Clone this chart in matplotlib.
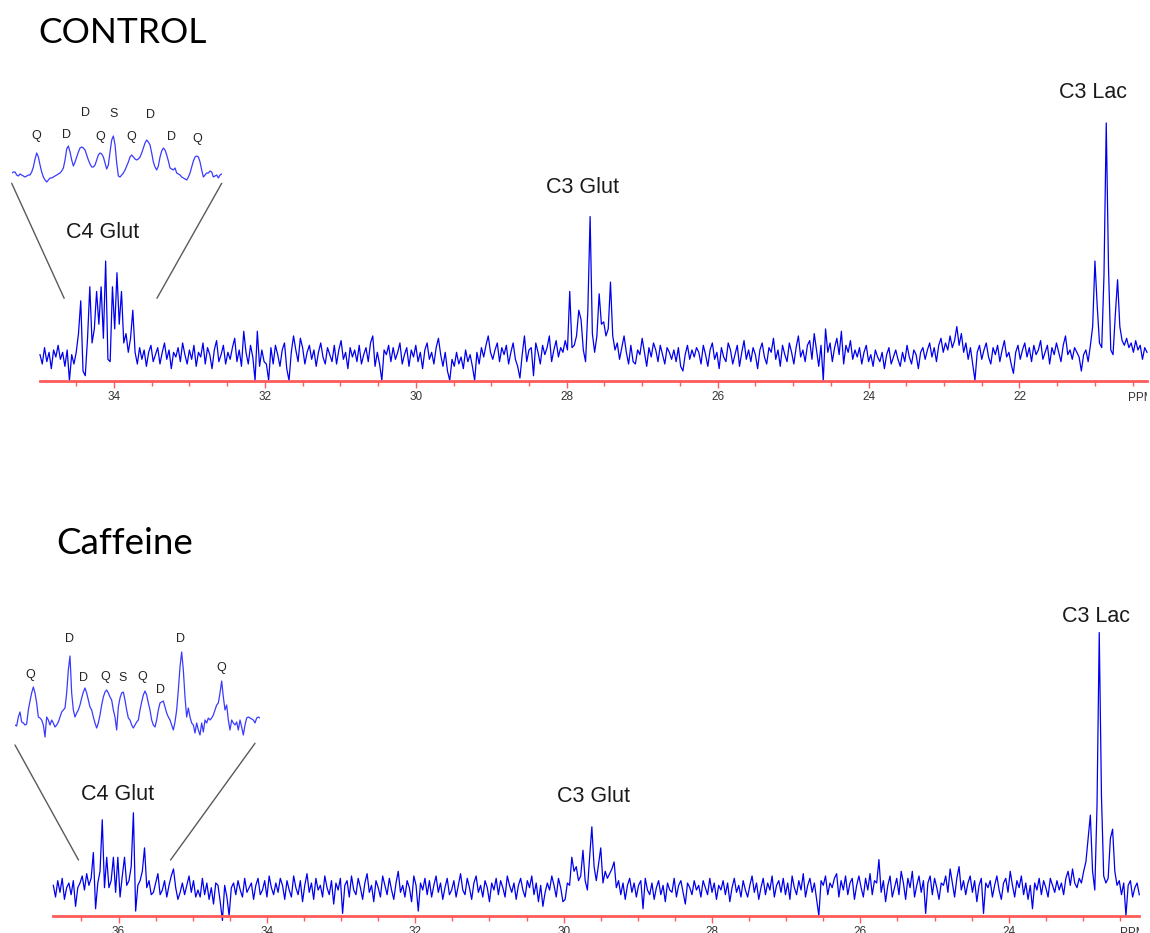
import numpy as np
import matplotlib
matplotlib.use('Agg')
import matplotlib.pyplot as plt
from matplotlib.patches import ConnectionPatch
from matplotlib.ticker import MultipleLocator
from matplotlib.transforms import Bbox, TransformedBbox, ScaledTranslation, blended_transform_factory

plt.rcParams['font.family'] = ['Liberation Sans', 'DejaVu Sans']

# 13C spectra, one point every 0.03 ppm, intensity in arbitrary units (baseline = 0)
ctrl_start = 34.98
caf_start = 36.88
ppm_step = 0.03

ctrl_int = [
    1, -3, 4, -2, 2, -5, 3, 0, 5, -1,
    2, -4, 3, -10, 1, -3, 2, 10, 24, -6,
    -8, 8, 30, 6, 12, 28, 14, 30, 8, 41,
    -1, -2, 30, 12, 36, 14, 28, 6, 10, 2,
    8, 20, 2, -3, 4, -1, 3, -4, 2, 5,
    -2, 1, 4, -3, 2, 6, -1, 3, -5, 2,
    0, 4, -2, 6, 1, -3, 3, -1, 5, -4,
    2, 0, 6, -3, 4, 1, -5, 3, 7, -2,
    1, 5, -3, 2, -1, 4, 8, -2, 3, -4,
    11, 2, -3, 5, 0, -10, 11, -4, 3, -2,
    -3, -10, 4, -3, 5, 1, -4, 3, 6, -5,
    -10, 2, 9, 3, -2, 8, 4, -3, 2, 5,
    -1, 3, -4, 2, 6, 0, -3, 4, 1, -2,
    5, -3, 3, 7, -1, 2, -5, 4, 0, 3,
    -2, 5, -3, 1, 4, -2, 6, 9, -4, 2,
    -3, -10, 3, 1, 5, -2, 4, -1, 2, 6,
    -3, 1, 4, -4, 3, 0, 5, -2, 2, -5,
    3, 6, -1, 2, -3, 4, 8, 1, -4, 2,
    -6, -10, -1, -4, 2, -3, 0, -5, 3, -2,
    1, -4, -10, 2, -3, 4, 0, 5, 9, 2,
    -1, 3, 6, -2, 4, 1, 5, -3, 2, 6,
    -1, -4, -9, 1, 9, -2, 3, 4, -8, 6,
    2, -3, 5, 1, 4, 9, -2, 3, 7, 0,
    4, 2, 7, 3, 28, 4, 5, 9, 20, 16,
    3, -2, 20, 60, 10, 2, 9, 27, 14, 15,
    9, 12, 32, 9, 3, 6, -1, 4, 9, 2,
    -3, 5, -2, -3, 3, 1, 8, 2, -4, 4,
    0, 6, 3, -2, 5, 1, -3, 4, 2, -1,
    3, -2, 4, -4, -6, 1, 5, -1, 3, 0,
    4, 2, -3, 5, 1, -4, 3, 6, -1, 2,
    -5, 4, 0, -2, 6, 3, -3, 1, 5, -4,
    2, 7, -1, 3, -2, 4, 1, -5, 3, 6,
    0, -3, 4, 2, 8, -1, 3, -4, 5, 1,
    -2, 6, 2, -3, 4, 9, 0, 3, -2, 5,
    7, -1, 10, 3, -4, 5, -10, 12, 2, 6,
    -2, 4, 8, 1, 11, -3, 5, 2, 7, -1,
    3, 0, 4, -3, 2, 5, -2, 1, -4, 3,
    0, -2, 2, -5, 1, 4, -3, 0, 3, -1,
    -4, 2, -2, 5, 0, -3, 3, 1, -5, 2,
    4, -1, 3, 6, 0, 4, -2, 5, 8, 2,
    6, 3, 9, 4, 7, 13, 5, 10, 2, 6,
    -1, 4, -3, -10, 2, 5, -1, 3, 6, 0,
    -3, 4, 1, 5, -2, 3, 7, 0, 2, -3,
    -7, 2, 5, -1, 3, 6, 0, 4, -2, 5,
    1, 3, 7, -1, 2, 5, -3, 4, 1, 6,
    2, -2, 5, 9, 1, 3, -1, 4, 2, 0,
    -6, 1, 3, -2, 5, 13, 41, 22, 6, 4,
    35, 100, 38, 3, 1, 18, 33, 13, 7, 5,
    8, 4, 6, 2, 7, 3, 5, -1, 4, 2,
]

caf_int = [
    2, -3, 4, -1, 5, -4, 1, 3, -2, 4,
    -7, 1, 3, 6, 0, 7, 2, 5, 16, -8,
    3, 8, 30, 1, 14, 1, 4, 14, -1, 14,
    -3, 6, 14, 2, 4, 10, 33, -9, 2, 4,
    8, 18, 1, 4, -2, -1, 3, 7, -2, 0,
    4, -3, 2, 6, 9, 1, -4, -1, 3, -2,
    2, 6, -1, 4, -3, 0, -3, 5, -2, 3,
    -4, 1, -6, 3, 2, -5, -13, 2, -3, -11,
    1, 3, -2, 4, 0, -3, 5, -1, 1, 3,
    -4, 2, 5, -2, 0, 4, -3, 6, 1, -2,
    3, -1, 5, 2, -4, 4, 0, -3, 6, 1,
    -2, 4, -5, 2, 7, -1, 3, -4, 5, 0,
    2, -3, 6, 1, -2, 4, -6, 3, 0, 5,
    -10, 2, 4, -3, 6, 0, -2, 5, 1, -4,
    3, 7, -1, 2, -5, 4, 1, -3, 6, 2,
    -2, 5, 0, -4, 3, 8, -1, 2, -3, 4,
    1, -5, 6, 2, -9, 3, 0, 5, -2, 4,
    -3, 2, 6, -1, 3, -4, 1, 5, -2, 0,
    4, -3, 2, 7, 0, -2, 5, 1, -4, 3,
    6, -1, 2, -3, 4, 1, -5, 3, 0, 5,
    -2, 4, 1, -3, 6, 2, -1, 3, -4, 2,
    5, 0, -3, 4, 1, 6, -2, 3, -5, 2,
    -7, -1, 3, 0, 6, 2, -3, 5, 1, -5,
    -4, 3, 2, 14, 8, 10, 4, 6, 17, 4,
    0, 14, 27, 10, 4, 11, 18, 3, 8, 5,
    7, 9, 12, 1, 4, -2, 3, -4, 2, 5,
    -1, 3, -3, 2, 4, -8, 5, 0, -2, 3,
    -4, 1, 4, -2, 2, -5, 3, 0, -1, 5,
    -3, 2, 4, -1, -6, 3, 1, -2, 4, 0,
    2, -3, 4, 1, -2, 5, -1, 3, -4, 2,
    0, 4, -2, 3, -5, 1, 5, -1, 2, -3,
    4, 0, -3, 2, 6, -1, 3, -4, 1, 5,
    -2, 3, 0, 6, -3, 2, 4, -1, 5, -2,
    3, -4, 6, 1, -2, 4, 0, 7, -3, 2,
    5, -1, 3, -4, -11, 4, 2, 6, -2, 3,
    1, 5, 7, -3, 4, 0, 6, -2, 3, 5,
    -4, 2, 6, 1, -3, 5, 0, 7, -2, 4,
    3, 13, -1, 4, -5, 2, 6, -3, 1, 5,
    -2, 8, 3, -4, 5, 1, 8, -3, 2, 6,
    -1, 4, -10, 3, 6, -2, 5, 1, -4, 3,
    2, 6, -1, 9, 3, -3, 5, 10, 0, 4,
    -2, 3, 6, -1, 4, -5, 2, 5, -10, 3,
    1, 4, -3, 2, 6, 0, -4, 3, 5, -1,
    8, 2, -3, 4, 1, 6, -2, 3, -4, 2,
    -8, 3, 0, 5, -2, 4, 1, -3, 5, 2,
    -1, 4, 0, 3, -2, 5, 8, 2, 9, 3,
    1, 5, 3, 8, 12, 22, 32, 8, 0, 36,
    110, 40, 6, 3, 5, 22, 26, 8, 2, 4,
    -2, 3, -11, 2, 4, -3, 1, 3, -2,
]

# expanded C4 glutamate multiplets (insets)
ctrl_zoom = [
    2, 3, 3, 0, -1, 1, 0, -1, -2, -1,
    0, 0, 3, 8, 16, 22, 18, 10, 3, -2,
    -5, -7, -5, -3, -3, -2, -1, 0, 1, 2,
    4, 7, 15, 26, 29, 23, 15, 9, 13, 18,
    23, 27, 28, 27, 25, 20, 15, 11, 8, 8,
    10, 15, 20, 22, 21, 18, 12, 6, 10, 23,
    35, 39, 30, 12, -1, -2, 0, 2, 5, 9,
    13, 18, 20, 18, 16, 15, 16, 18, 22, 27,
    32, 35, 33, 30, 22, 13, 8, 5, 9, 18,
    24, 27, 25, 20, 14, 7, 6, 5, 7, 2,
    1, 0, -2, -3, -4, -5, -2, 2, 8, 14,
    18, 19, 18, 13, 5, -2, 0, 2, 2, 4,
    3, -2, -1, 0, -3, 0, 1,
]

caf_zoom = [
    0, -1, 8, 13, 3, 2, 0, 1, 15, 24,
    32, 38, 32, 22, 8, 7, 5, 0, -12, 8,
    5, 0, 5, 2, -2, 0, 3, 8, 13, 15,
    17, 32, 55, 69, 32, 15, 8, 12, 15, 20,
    27, 33, 37, 32, 25, 18, 15, 8, 2, -3,
    2, 10, 20, 28, 33, 35, 32, 28, 25, 15,
    8, -5, 18, 27, 32, 33, 25, 15, 7, 5,
    0, -3, 0, 3, 5, 15, 23, 30, 34, 30,
    22, 15, 5, 0, -2, 5, 15, 22, 23, 24,
    18, 12, 8, 5, 0, -5, 3, 15, 35, 58,
    73, 55, 28, 8, 17, 8, 2, 0, -8, 2,
    -5, -10, 2, -7, 5, 2, 7, 5, 7, 10,
    15, 20, 22, 32, 44, 28, 15, 20, 5, -5,
    5, 2, 0, 3, -5, 5, -2, -10, 0, 7,
    8, 7, 6, 5, 2, 7, 8, 7,
]

multiplet_marks = ['Q', 'D', 'D', 'Q', 'S', 'Q', 'D', 'D', 'Q']
peak_names = ['C4 Glut', 'C3 Glut', 'C3 Lac']

W, H = 1150, 933
fig = plt.figure(figsize=(W / 100, H / 100), dpi=100)

AXIS_RED = '#ff5b5b'


def px_axes(x0, y0, x1, y1):
    return fig.add_axes([x0 / W, 1 - y1 / H, (x1 - x0) / W, (y1 - y0) / H])


def spectrum(box, start, vals, ylim, majors, ppm_label_at, names_ppm, names_int):
    ax = px_axes(*box)
    ppm = start - ppm_step * np.arange(len(vals))
    ax.plot(ppm, vals, color='#0000ee', lw=0.9, clip_on=False)
    ax.set_xlim(ppm[0], ppm[-1])
    ax.set_ylim(*ylim)
    ax.patch.set_alpha(0)
    for s in ['left', 'right', 'top']:
        ax.spines[s].set_visible(False)
    ax.spines['bottom'].set_color(AXIS_RED)
    ax.spines['bottom'].set_linewidth(2)
    ax.set_yticks([])
    ax.set_xticks(majors)
    ax.set_xticklabels([str(m) for m in majors])
    ax.xaxis.set_minor_locator(MultipleLocator(0.5))
    ax.tick_params(axis='x', which='major', length=5, width=1, color=AXIS_RED,
                   labelsize=8.5, labelcolor='#333333', pad=2.5)
    ax.tick_params(axis='x', which='minor', length=3.5, width=1, color=AXIS_RED)

    # "PPM" unit label, cut off by the right end of the axis
    tr = blended_transform_factory(ax.transData, ax.transAxes) + \
        ScaledTranslation(0, -10.7 / 100, fig.dpi_scale_trans)
    t = ax.text(ppm_label_at, 0, 'PPM', transform=tr, ha='left', va='top',
                fontsize=8.5, color='#333333')
    t.set_clip_path(None)
    t.set_clip_box(TransformedBbox(Bbox([[0, 0], [1, 1]]),
                                   blended_transform_factory(ax.transAxes, fig.transFigure)))
    t.set_clip_on(True)

    for name, x, y in zip(peak_names, names_ppm, names_int):
        ax.text(x, y, name, ha='center', va='center', fontsize=15.5, color='#1a1a1a')
    return ax


def zoom_inset(box, vals, ylim, mark_x, mark_y):
    ins = px_axes(*box)
    ins.plot(np.arange(len(vals)), vals, color='#3a3aff', lw=0.9)
    ins.set_xlim(0, len(vals) - 1)
    ins.set_ylim(*ylim)
    ins.axis('off')
    for m, x, y in zip(multiplet_marks, mark_x, mark_y):
        ins.text(x, y, m, ha='center', va='center', fontsize=9, color='#222222')
    return ins


def connect(ins, ax, pa, pb):
    con = ConnectionPatch(xyA=pa, coordsA=ins.transData, xyB=pb, coordsB=ax.transData,
                          color='#5a5a5a', lw=1)
    fig.add_artist(con)


# CONTROL
ax1 = spectrum((40, 100, 1147, 381), ctrl_start, ctrl_int, (-10.26, 109.8),
               [34, 32, 30, 28, 26, 24, 22], 20.556,
               [34.15, 27.79, 21.02], [53.1, 72.6, 113.1])
in1 = zoom_inset((11.7, 110, 221.7, 195), ctrl_zoom, (-20, 65),
                 [14.6, 33, 44, 53, 61, 72, 83.4, 95.6, 111.4],
                 [39, 40, 61.7, 38.3, 61, 38.3, 60, 37.7, 35.7])
connect(in1, ax1, (0, -8.3), (34.66, 25.1))
connect(in1, ax1, (126, -8.3), (33.43, 25.1))
fig.text(38.3 / W, 1 - 42.7 / H, 'CONTROL', fontsize=25.5, family='Lato',
         ha='left', va='baseline', color='black')

# Caffeine
ax2 = spectrum((53.3, 600, 1139.3, 916), caf_start, caf_int, (-11.1, 123.9),
               [36, 34, 32, 30, 28, 26, 24], 22.494,
               [36.02, 29.6, 22.83], [40.6, 39.9, 116.8])
in2 = zoom_inset((15, 640, 260, 760), caf_zoom, (-35, 85),
                 [9, 33, 41, 54, 64.6, 76.6, 87.6, 99.4, 124],
                 [50, 85.7, 47.3, 48.3, 46.7, 48.3, 35, 85.7, 56.7])
connect(in2, ax2, (0, -20), (36.54, 12.8))
connect(in2, ax2, (144, -18.3), (35.30, 12.8))
fig.text(56.7 / W, 1 - 554.3 / H, 'Caffeine', fontsize=26.5, family='Lato',
         ha='left', va='baseline', color='black')

fig.savefig('out.png', dpi=100, facecolor='white')
